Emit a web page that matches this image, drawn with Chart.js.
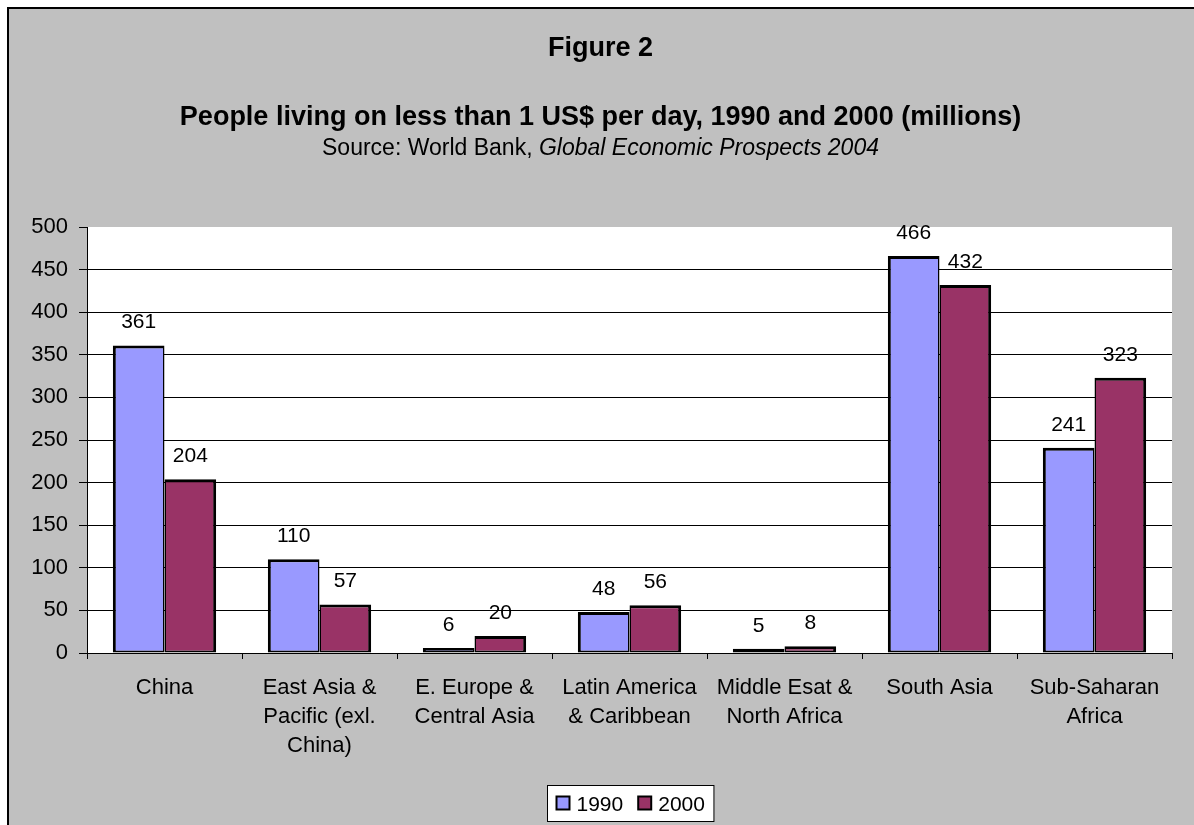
<!DOCTYPE html>
<html>
<head>
<meta charset="utf-8">
<title>Figure 2</title>
<script src="https://cdn.jsdelivr.net/npm/chart.js@4"></script>
<style>
  html, body { margin: 0; padding: 0; background: #fff; }
  #wrap { width: 1194px; height: 825px; }
</style>
</head>
<body>
<div id="wrap"><canvas id="povertyChart" width="1194" height="825"></canvas></div>
<script>
const categories = [
  "China",
  ["East Asia &", "Pacific (exl.", "China)"],
  ["E. Europe &", "Central Asia"],
  ["Latin America", "& Caribbean"],
  ["Middle Esat &", "North Africa"],
  "South Asia",
  ["Sub-Saharan", "Africa"],
];
const seriesNames = ["1990", "2000"];
const values1990 = [361, 110, 6, 48, 5, 466, 241];
const values2000 = [204, 57, 20, 56, 8, 432, 323];
const yMin = 0;
const yMax = 500;
const yStep = 50;

const FONT = "'Liberation Sans', Arial, sans-serif";
const GREY = "#c0c0c0";

// frame, grey panel and white plot area
const backgroundPlugin = {
  id: "background",
  beforeDraw(chart) {
    const { ctx, width, height, chartArea } = chart;
    ctx.save();
    ctx.fillStyle = "#fff";
    ctx.fillRect(0, 0, width, height);
    ctx.fillStyle = GREY;
    ctx.fillRect(7, 7, width - 7, height - 7);
    ctx.strokeStyle = "#000";
    ctx.lineWidth = 2;
    ctx.beginPath();
    ctx.moveTo(8, height);
    ctx.lineTo(8, 8);
    ctx.lineTo(width, 8);
    ctx.stroke();
    ctx.fillStyle = "#fff";
    ctx.fillRect(chartArea.left, chartArea.top, chartArea.right - chartArea.left, chartArea.bottom - chartArea.top);
    ctx.restore();
  },
};

const titlesPlugin = {
  id: "titles",
  afterDraw(chart) {
    const { ctx } = chart;
    const cx = 600.5;
    ctx.save();
    ctx.fillStyle = "#000";
    ctx.textBaseline = "alphabetic";
    ctx.textAlign = "center";
    ctx.font = `bold 27px ${FONT}`;
    ctx.fillText("Figure 2", cx, 56);
    ctx.fillText("People living on less than 1 US$ per day, 1990 and 2000 (millions)", cx, 125);

    // subtitle: plain part + italic part
    const plain = "Source: World Bank, ";
    const italic = "Global Economic Prospects 2004";
    ctx.font = `23px ${FONT}`;
    const w1 = ctx.measureText(plain).width;
    ctx.font = `italic 23px ${FONT}`;
    const w2 = ctx.measureText(italic).width;
    const x0 = cx - (w1 + w2) / 2;
    ctx.textAlign = "left";
    ctx.font = `23px ${FONT}`;
    ctx.fillText(plain, x0, 155);
    ctx.font = `italic 23px ${FONT}`;
    ctx.fillText(italic, x0 + w1, 155);
    ctx.restore();
  },
};

const valueLabelsPlugin = {
  id: "valueLabels",
  afterDatasetsDraw(chart) {
    const { ctx } = chart;
    ctx.save();
    ctx.fillStyle = "#000";
    ctx.font = `21px ${FONT}`;
    ctx.textAlign = "center";
    ctx.textBaseline = "alphabetic";
    chart.data.datasets.forEach((ds, i) => {
      chart.getDatasetMeta(i).data.forEach((bar, j) => {
        ctx.fillText(String(ds.data[j]), bar.x, bar.y - 17);
      });
    });
    ctx.restore();
  },
};

// boxed legend under the axis labels
const boxLegendPlugin = {
  id: "boxLegend",
  afterDraw(chart) {
    const { ctx } = chart;
    const sq = 13;
    const gapSq = 7;
    const gapItem = 15;
    ctx.save();
    ctx.font = `21px ${FONT}`;
    const items = chart.data.datasets.map((ds) => ({
      label: ds.label,
      color: ds.backgroundColor,
      w: sq + gapSq + ctx.measureText(ds.label).width,
    }));
    const inner = items.reduce((s, it) => s + it.w, 0) + gapItem * (items.length - 1);
    const boxW = inner + 18;
    const boxH = 36;
    const bx = Math.round(630 - boxW / 2) + 0.5;
    const by = 785.5;
    ctx.fillStyle = "#fff";
    ctx.fillRect(bx, by, boxW, boxH);
    ctx.strokeStyle = "#000";
    ctx.lineWidth = 1;
    ctx.strokeRect(bx, by, boxW, boxH);

    let x = bx + 9;
    items.forEach((it) => {
      ctx.fillStyle = it.color;
      ctx.fillRect(x, by + 11, sq, sq);
      ctx.lineWidth = 2;
      ctx.strokeRect(x, by + 11, sq, sq);
      ctx.fillStyle = "#000";
      ctx.textAlign = "left";
      ctx.textBaseline = "alphabetic";
      ctx.fillText(it.label, x + sq + gapSq, by + 25);
      x += it.w + gapItem;
    });
    ctx.restore();
  },
};

new Chart(document.getElementById("povertyChart"), {
  type: "bar",
  data: {
    labels: categories,
    datasets: [
      {
        label: seriesNames[0],
        data: values1990,
        backgroundColor: "#9999ff",
        borderColor: "#000",
        borderWidth: { top: 3, left: 3, right: 1.5, bottom: 2 },
        borderSkipped: false,
        categoryPercentage: 2 / 3,
        barPercentage: 1,
      },
      {
        label: seriesNames[1],
        data: values2000,
        backgroundColor: "#993366",
        borderColor: "#000",
        borderWidth: { top: 3, left: 1.5, right: 3, bottom: 2 },
        borderSkipped: false,
        categoryPercentage: 2 / 3,
        barPercentage: 1,
      },
    ],
  },
  options: {
    responsive: false,
    animation: false,
    devicePixelRatio: 1,
    layout: { padding: { top: 227, left: 20, right: 22, bottom: 0 } },
    plugins: {
      legend: { display: false },
      title: { display: false },
      tooltip: { enabled: false },
    },
    scales: {
      x: {
        grid: {
          offset: true,
          drawOnChartArea: false,
          drawTicks: true,
          tickLength: 6,
          tickColor: "#000",
          color: "#000",
        },
        border: { color: "#000", width: 1 },
        ticks: {
          color: "#000",
          font: { family: FONT, size: 22, lineHeight: 1.3 },
          padding: 15,
          maxRotation: 0,
          autoSkip: false,
        },
        afterFit: (s) => { s.height = 172; },
      },
      y: {
        min: yMin,
        max: yMax,
        ticks: {
          stepSize: yStep,
          color: "#000",
          font: { family: FONT, size: 22 },
          padding: 11,
        },
        grid: {
          color: (c) => (c.tick && c.tick.value === yMax ? "rgba(0,0,0,0)" : "#000"),
          tickColor: "#000",
          tickLength: 8,
          lineWidth: 1,
        },
        border: { color: "#000", width: 1 },
        afterFit: (s) => { s.width = 67; },
      },
    },
  },
  plugins: [backgroundPlugin, valueLabelsPlugin, titlesPlugin, boxLegendPlugin],
});
</script>
</body>
</html>
